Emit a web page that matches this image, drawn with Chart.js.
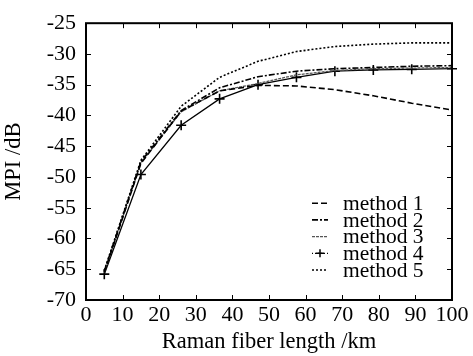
<!DOCTYPE html>
<html>
<head>
<meta charset="utf-8">
<script src="https://cdn.jsdelivr.net/npm/chart.js@4/dist/chart.umd.min.js"></script>
<style>
  html, body { margin: 0; padding: 0; background: #fff; }
  #chart { display: block; }
</style>
</head>
<body>
<canvas id="chart" width="473" height="356"></canvas>
<script>
// fiber length (km) where each method was evaluated
const lengths = [5, 15, 26, 36.5, 47, 57.5, 68, 78.5, 89, 100];

// MPI values (dB)
const method1 = [-65.5, -47.8, -39.3, -36.0, -35.1, -35.2, -35.8, -36.8, -38.0, -39.1];
const method2 = [-65.3, -47.5, -39.2, -35.5, -33.7, -32.8, -32.4, -32.2, -32.0, -31.9];
const method3 = [-65.5, -47.7, -39.4, -36.0, -34.8, -33.4, -32.7, -32.4, -32.3, -32.2];
const method4 = [-65.8, -49.6, -41.6, -37.3, -35.0, -33.8, -32.8, -32.6, -32.5, -32.4];
const method5 = [-65.2, -47.3, -38.5, -33.8, -31.2, -29.6, -28.8, -28.4, -28.2, -28.2];

const seriesNames = ['method 1', 'method 2', 'method 3', 'method 4', 'method 5'];

const xTicks = [0, 10, 20, 30, 40, 50, 60, 70, 80, 90, 100];
const yTicks = [-70, -65, -60, -55, -50, -45, -40, -35, -30, -25];

const FONT = '"Liberation Serif", "Times New Roman", serif';

const toPoints = ys => ys.map((y, i) => ({ x: lengths[i], y: y }));

const styles = [
    { borderColor: '#000', borderWidth: 1.6, borderDash: [6, 3] },
    { borderColor: '#000', borderWidth: 1.6, borderDash: [6, 2, 2, 2] },
    { borderColor: '#555', borderWidth: 1.3, borderDash: [3, 1] },
    { borderColor: '#000', borderWidth: 1.3, borderDash: [], pointStyle: 'cross', pointRadius: 5, pointBorderWidth: 1.6 },
    { borderColor: '#000', borderWidth: 1.6, borderDash: [2, 2] }
];

const allSeries = [method1, method2, method3, method4, method5];

const datasets = allSeries.map((ys, i) => Object.assign({
    label: seriesNames[i],
    data: toPoints(ys),
    tension: 0,
    fill: false,
    pointRadius: 0,
    clip: false
}, styles[i]));

// box with inward ticks on all four sides
const frame = {
    id: 'frame',
    afterDatasetsDraw(chart) {
        const { ctx, chartArea: a, scales } = chart;
        ctx.save();
        ctx.strokeStyle = '#000';
        ctx.lineWidth = 1;
        const len = 5;
        ctx.beginPath();
        xTicks.slice(1, -1).forEach(v => {
            const px = Math.round(scales.x.getPixelForValue(v)) + 0.5;
            ctx.moveTo(px, a.bottom); ctx.lineTo(px, a.bottom - len);
            ctx.moveTo(px, a.top); ctx.lineTo(px, a.top + len);
        });
        yTicks.slice(1, -1).forEach(v => {
            const py = Math.round(scales.y.getPixelForValue(v)) + 0.5;
            ctx.moveTo(a.left, py); ctx.lineTo(a.left + len, py);
            ctx.moveTo(a.right, py); ctx.lineTo(a.right - len, py);
        });
        ctx.stroke();
        ctx.lineWidth = 2;
        ctx.strokeRect(a.left, a.top, a.right - a.left, a.bottom - a.top);
        ctx.restore();
    }
};

// legend drawn inside the plot, bottom right
const insideLegend = {
    id: 'insideLegend',
    afterDraw(chart) {
        const { ctx, chartArea: a } = chart;
        ctx.save();
        ctx.font = '21.5px ' + FONT;
        ctx.fillStyle = '#000';
        ctx.textBaseline = 'middle';
        const step = 16.7;
        const x0 = a.left + 226, x1 = a.left + 242, tx = a.left + 257;
        chart.data.datasets.forEach((ds, i) => {
            const y = a.bottom - 30 - step * (4 - i);
            ctx.strokeStyle = ds.borderColor;
            ctx.lineWidth = ds.borderWidth;
            ctx.setLineDash(i === 3 ? [1, 2] : ds.borderDash);
            ctx.beginPath();
            ctx.moveTo(x0, y); ctx.lineTo(x1, y);
            ctx.stroke();
            ctx.setLineDash([]);
            if (i === 3) {
                const cx = (x0 + x1) / 2;
                ctx.lineWidth = 1.5;
                ctx.beginPath();
                ctx.moveTo(cx - 4, y); ctx.lineTo(cx + 4, y);
                ctx.moveTo(cx, y - 4); ctx.lineTo(cx, y + 4);
                ctx.stroke();
            }
            ctx.fillText(ds.label, tx, y + 1);
        });
        ctx.restore();
    }
};

new Chart(document.getElementById('chart'), {
    type: 'line',
    data: { datasets: datasets },
    options: {
        responsive: false,
        animation: false,
        layout: { padding: { top: 13, right: 21, left: 0, bottom: 0 } },
        plugins: { legend: { display: false }, tooltip: { enabled: false } },
        scales: {
            x: {
                type: 'linear',
                min: 0, max: 100,
                afterFit: s => { s.height = 56; },
                afterBuildTicks: s => { s.ticks = xTicks.map(v => ({ value: v })); },
                grid: { display: false, drawTicks: false },
                border: { display: false },
                ticks: { color: '#000', padding: 2, maxRotation: 0, font: { family: FONT, size: 22 } },
                title: {
                    display: true, text: 'Raman fiber length /km', color: '#000',
                    padding: { top: 0, bottom: 0 },
                    font: { family: FONT, size: 22.5 }
                }
            },
            y: {
                min: -70, max: -25,
                afterFit: s => { s.width = 86; },
                afterBuildTicks: s => { s.ticks = yTicks.map(v => ({ value: v })); },
                grid: { display: false, drawTicks: false },
                border: { display: false },
                ticks: { color: '#000', padding: 10, font: { family: FONT, size: 22 } },
                title: {
                    display: true, text: 'MPI /dB', color: '#000',
                    padding: { top: 1, bottom: 0 },
                    font: { family: FONT, size: 22.5 }
                }
            }
        }
    },
    plugins: [frame, insideLegend]
});
</script>
</body>
</html>
